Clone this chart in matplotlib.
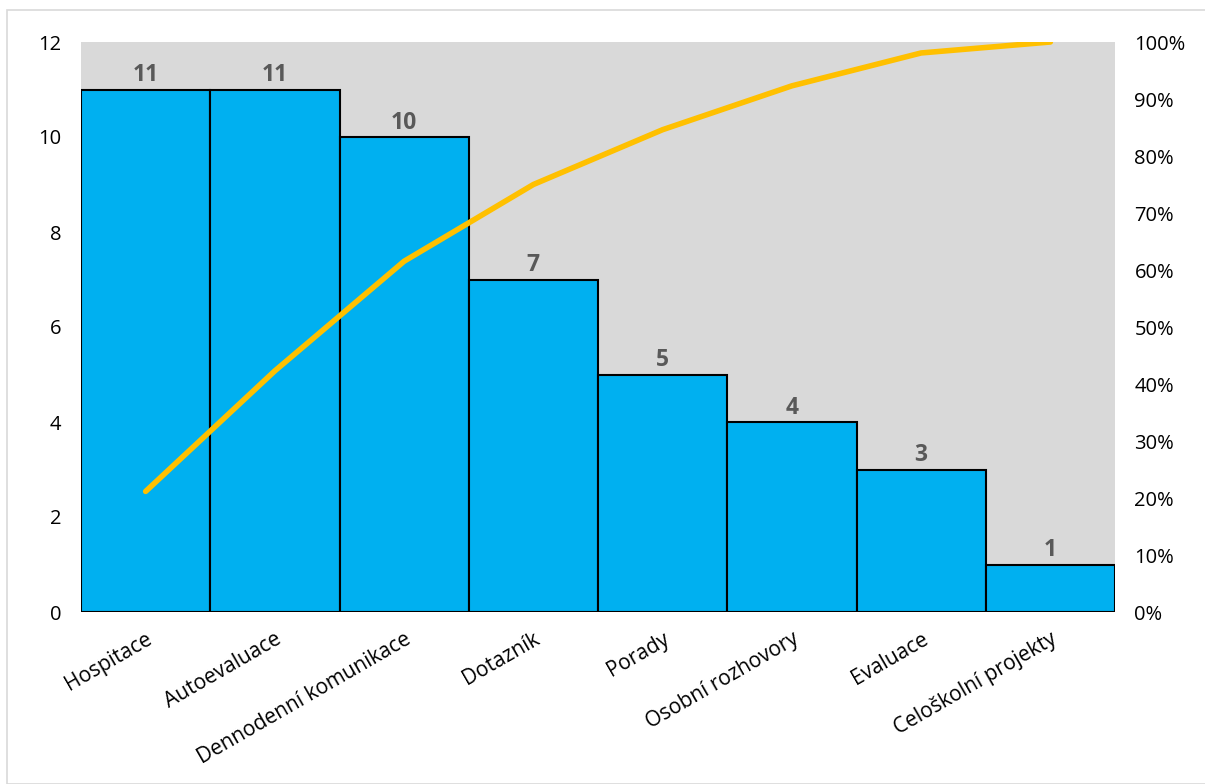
import matplotlib
matplotlib.use("Agg")
import matplotlib.pyplot as plt
from matplotlib.patches import Rectangle
from matplotlib.ticker import PercentFormatter, MultipleLocator

categories = ["Hospitace", "Autoevaluace", "Dennodenní komunikace", "Dotazník",
              "Porady", "Osobní rozhovory", "Evaluace", "Celoškolní projekty"]
counts = [11, 11, 10, 7, 5, 4, 3, 1]

total = sum(counts)
cum = []
s = 0
for c in counts:
    s += c
    cum.append(s / total * 100)

plt.rcParams['font.family'] = ['Open Sans', 'DejaVu Sans']

fig = plt.figure(figsize=(12.05, 7.84), dpi=100)
ax = fig.add_axes([81/1205, 1-612/784, (1115-81)/1205, (612-42)/784])
ax.set_facecolor('#D9D9D9')

x = list(range(len(categories)))
bars = ax.bar(x, counts, width=1.0, color='#00B0F0', edgecolor='black', linewidth=1.5, zorder=2)
for xi, v in zip(x, counts):
    ax.text(xi, v + 0.05, str(v), ha='center', va='bottom', fontsize=16.5,
            fontweight='bold', color='#595959', zorder=3)

ax.set_xlim(-0.5, len(categories) - 0.5)
ax.set_ylim(0, 12)
ax.yaxis.set_major_locator(MultipleLocator(2))
ax.set_xticks(x)
ax.set_xticklabels(categories, rotation=30, ha='right', rotation_mode='anchor', fontsize=15)
ax.tick_params(axis='y', length=0, labelsize=14.5, colors='black', pad=14)
ax.tick_params(axis='x', length=0, pad=12)
for sp in ax.spines.values():
    sp.set_visible(False)

ax2 = ax.twinx()
ax2.plot(x, cum, color='#FFC000', linewidth=4.0, solid_capstyle='round', zorder=4)
ax2.set_ylim(0, 100)
ax2.yaxis.set_major_locator(MultipleLocator(10))
ax2.yaxis.set_major_formatter(PercentFormatter(decimals=0))
ax2.tick_params(axis='y', length=0, labelsize=14.5, pad=14)
for sp in ax2.spines.values():
    sp.set_visible(False)

fig.patches.append(Rectangle((7/1205, 0), 1.0, 1 - 10/784, transform=fig.transFigure,
                             fill=False, edgecolor='#D9D9D9', linewidth=1.2))

fig.savefig("out.png", dpi=100, facecolor='white')
